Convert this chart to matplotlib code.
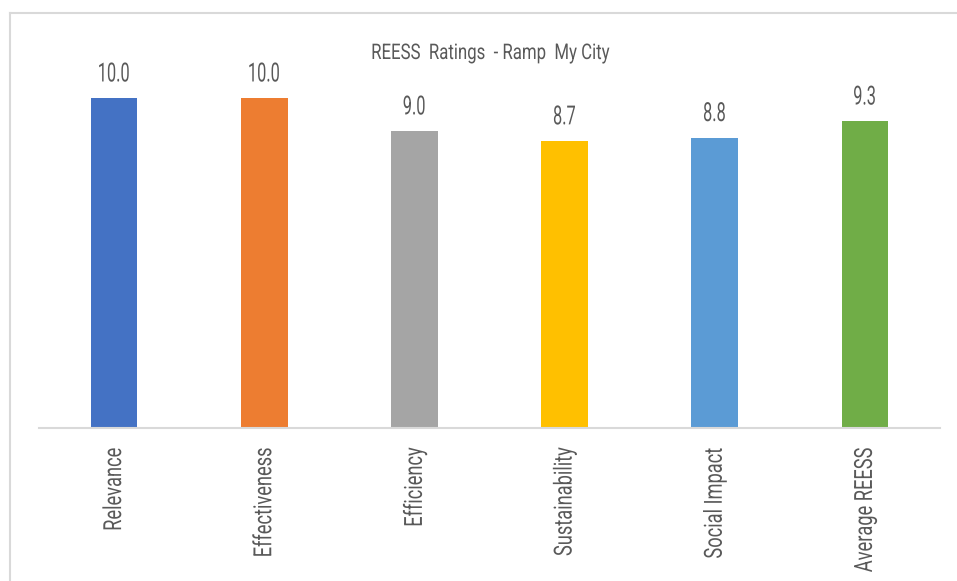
import matplotlib.pyplot as plt
from matplotlib.lines import Line2D
from matplotlib.patheffects import AbstractPathEffect
from matplotlib.transforms import Affine2D

categorias = ['Relevance', 'Effectiveness', 'Efficiency', 'Sustainability', 'Social Impact', 'Average REESS']
valores = [10.0, 10.0, 9.0, 8.7, 8.8, 9.3]
colores = ['#4472C4', '#ED7D31', '#A5A5A5', '#FFC000', '#5B9BD5', '#70AD47']
titulo = 'REESS  Ratings  - Ramp  My City'

plt.rcParams['font.family'] = ['Roboto', 'DejaVu Sans']
color_texto = '#595959'


class Condensado(AbstractPathEffect):
	# Estrecha el texto a lo ancho para imitar una fuente condensada
	def __init__(self, factor, ancla='centro'):
		super().__init__()
		self.factor = factor
		self.ancla = ancla

	def draw_path(self, renderer, gc, tpath, affine, rgbFace=None):
		xs = tpath.vertices[:, 0]
		if len(xs) == 0:
			renderer.draw_path(gc, tpath, affine, rgbFace)
			return
		x0 = xs.max() if self.ancla == 'final' else (xs.min() + xs.max()) / 2
		escala = Affine2D().translate(-x0, 0).scale(self.factor, 1).translate(x0, 0)
		renderer.draw_path(gc, tpath, escala + affine, rgbFace)


fig = plt.figure(figsize=(9.57, 5.81), dpi=100)
ax = fig.add_axes([39 / 957, 1 - 428 / 581, 901 / 957, 366 / 581])

posiciones = range(len(categorias))
barras = ax.bar(posiciones, valores, width=0.31, color=colores)
for barra, valor in zip(barras, valores):
	ax.text(barra.get_x() + barra.get_width() / 2, valor + 0.5, f'{valor:.1f}',
			ha='center', va='baseline', fontsize=19, color=color_texto,
			path_effects=[Condensado(0.62)])

ax.set_xlim(-0.5, len(categorias) - 0.5)
ax.set_ylim(0, 11.09)
ax.set_xticks(list(posiciones))
ax.set_xticklabels(categorias, rotation=90, fontsize=18, color=color_texto)
for etiqueta in ax.get_xticklabels():
	etiqueta.set_path_effects([Condensado(0.73, 'final')])
ax.tick_params(axis='x', length=0, pad=14)
ax.set_yticks([])
for lado in ['top', 'right', 'left']:
	ax.spines[lado].set_visible(False)
ax.spines['bottom'].set_color('#D9D9D9')
ax.spines['bottom'].set_linewidth(1.5)

fig.text(490 / 957, 1 - 59 / 581, titulo, ha='center', va='baseline', fontsize=15.5,
		 color=color_texto, path_effects=[Condensado(0.78)])

# Marco del area del grafico (borde izquierdo y superior)
fig.add_artist(Line2D([10 / 957, 10 / 957], [0, 1 - 13 / 581], color='#D9D9D9', lw=1.5, transform=fig.transFigure))
fig.add_artist(Line2D([10 / 957, 1], [1 - 13 / 581, 1 - 13 / 581], color='#D9D9D9', lw=1.5, transform=fig.transFigure))

fig.savefig('out.png', dpi=100)
